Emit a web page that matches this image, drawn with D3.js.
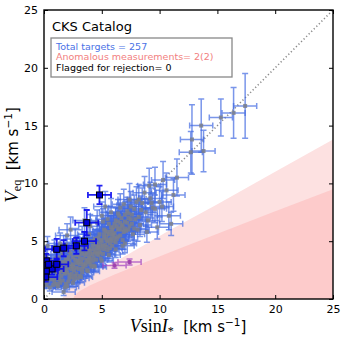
<!DOCTYPE html>
<html><head><meta charset="utf-8">
<script src="https://cdn.jsdelivr.net/npm/d3@7"></script>
<style>body{margin:0;background:#fff}svg{display:block}</style>
</head><body><div id="chart"></div>
<script>
// ---- data ----
const xTicks = [0, 5, 10, 15, 20, 25];
const yTicks = [0, 5, 10, 15, 20, 25];
// [vsini, veq, vsini_err, veq_err]
const samplePoints = [
 [0.3,1.5,1,0.4],[0.5,2.1,1,0.5],[0.8,1.2,1,0.3],[0.2,3.8,1,0.6],[0.6,3.3,1,0.5],[1.0,1.8,1,0.4],[1.2,2.6,1,0.5],[0.4,2.7,1,0.4],[1.4,1.4,1,0.3],[0.9,4.4,1,0.7],
 [1.3,3.6,1,0.6],[0.7,1.7,1,0.4],[1.1,2.2,1,0.4],[0.1,2.4,1,0.5],[1.5,2.0,1,0.4],[0.5,1.0,1,0.3],[1.2,1.1,1,0.3],[0.3,4.6,1,0.8],[1.4,4.8,1,0.9],[0.8,3.0,1,0.5],
 [1.6,1.6,1,0.4],[1.7,2.8,1,0.5],[1.8,1.0,1,0.3],[1.9,3.4,1,0.6],[2.0,2.3,1,0.4],[2.1,1.5,1,0.4],[2.2,4.1,1,0.7],[2.3,2.9,1,0.5],[2.4,1.9,1,0.4],[2.5,3.6,1,0.6],
 [2.6,2.5,1,0.5],[2.7,5.2,1,0.9],[2.8,3.1,1,0.5],[2.9,1.8,1,0.4],[1.6,3.9,1,0.7],[1.8,2.2,1,0.4],[2.0,5.5,1,1.0],[2.2,3.3,1,0.6],[2.4,2.6,1,0.5],[2.6,4.3,1,0.7],
 [2.8,2.2,1,0.4],[3.0,3.8,1,0.6],[1.7,0.6,1,0.3],[2.5,1.4,1,0.3],[1.9,4.7,1,0.8],[2.3,6.0,1,1.1],[2.7,2.0,1,0.4],[2.9,4.6,1,0.8],[2.1,2.7,1,0.5],[3.0,2.6,1,0.5],
 [3.1,3.0,1,0.5],[3.2,4.2,1,0.7],[3.3,2.3,1,0.4],[3.4,3.5,1,0.6],[3.5,5.0,1,0.8],[3.6,2.9,1,0.5],[3.7,4.0,1,0.6],[3.8,3.3,1,0.5],[3.9,5.6,1,0.9],[4.0,3.9,1,0.6],
 [4.1,2.8,1,0.5],[4.2,4.6,1,0.7],[4.3,3.6,1,0.6],[4.4,5.2,1,0.8],[4.5,4.1,1,0.7],[3.2,3.2,1,0.5],[3.4,4.8,1,0.8],[3.6,3.8,1,0.6],[3.8,4.5,1,0.7],[4.0,6.3,1,1.0],
 [4.2,3.3,1,0.5],[4.4,4.0,1,0.6],[3.3,2.6,1,0.5],[3.5,6.8,1,1.1],[3.7,3.4,1,0.5],[3.9,4.3,1,0.7],[4.1,5.0,1,0.8],[4.3,2.9,1,0.5],[3.1,4.5,1,0.8],[4.5,3.4,1,0.6],
 [3.6,4.6,1,0.7],[4.0,3.0,1,0.5],
 [4.6,4.8,1,0.8],[4.7,3.8,1,0.6],[4.8,5.6,1,0.9],[4.9,4.4,1,0.7],[5.0,5.0,1,0.8],[5.1,3.9,1,0.6],[5.2,6.0,1,1.0],[5.3,4.7,1,0.7],[5.4,5.4,1,0.8],[5.5,4.2,1,0.7],
 [5.6,6.5,1,1.0],[5.7,5.1,1,0.8],[5.8,5.8,1,0.9],[5.9,4.6,1,0.7],[6.0,6.2,1,1.0],[4.6,6.6,1,1.1],[4.8,4.1,1,0.6],[5.0,7.2,1,1.2],[5.2,5.3,1,0.8],[5.4,4.5,1,0.7],
 [5.6,5.6,1,0.9],[5.8,7.5,1,1.2],[6.0,5.0,1,0.8],[4.7,5.3,1,0.8],[5.1,6.7,1,1.1],[5.5,6.9,1,1.1],[5.9,5.5,1,0.9],[4.9,3.5,1,0.6],[5.3,8.0,1,1.3],[5.7,4.4,1,0.7],
 [6.1,5.7,1,0.9],[6.2,6.8,1,1.1],[6.3,5.2,1,0.8],[6.4,7.4,1,1.2],[6.5,6.1,1,1.0],[6.6,5.5,1,0.9],[6.7,7.0,1,1.1],[6.8,6.4,1,1.0],[6.9,8.2,1,1.3],[7.0,6.7,1,1.1],
 [7.1,5.9,1,0.9],[7.2,7.6,1,1.2],[7.3,7.0,1,1.1],[7.4,6.3,1,1.0],[7.5,8.0,1,1.3],[7.6,7.3,1,1.2],[7.7,5.6,1,0.9],[7.8,7.8,1,1.2],[7.9,6.9,1,1.1],[8.0,8.4,1,1.3],
 [6.2,4.9,1,0.8],[6.6,7.9,1,1.2],[7.0,4.8,1,0.8],[7.4,8.6,1,1.4],[7.8,6.1,1,1.0],[6.4,6.0,1,1.0],[6.8,5.1,1,0.8],[7.2,6.6,1,1.0],
 [8.2,7.1,1,1.1],[8.3,6.4,1,1.0],[8.5,8.3,1,1.3],[8.7,9.2,1,1.4],[8.8,7.5,1,1.2],[9.0,6.8,1,1.1],[9.2,8.7,1,1.4],[9.4,7.9,1,1.2],[9.6,9.9,1,1.5],[9.6,7.8,1,1.2],
 [9.8,6.2,1,1.0],[10.0,8.4,1,1.3],[10.2,8.0,1,1.3],[10.3,10.3,1,1.6],[10.6,9.4,1,1.5],[8.2,8.6,1,1.3],[9.1,9.8,1,1.5],[10.8,7.2,1,1.2],[11.2,9.0,1,1.4],[11.5,10.5,1,1.6],
 [8.9,5.8,1,0.9],[11.0,6.5,1,1.0],
 [12.7,12.7,1,1.8],[12.8,13.8,1,3.0],[13.8,12.8,1,1.8],[13.6,15.0,1,2.3],[15.3,15.7,1,1.6],[16.4,16.1,1,2.2],[17.4,16.7,1,2.8],
 [1.0,2.9,1,0.5],[1.3,1.7,1,0.4],[1.6,2.4,1,0.4],[1.9,1.3,1,0.3],[2.2,1.8,1,0.4],[2.5,3.0,1,0.5],[2.8,2.7,1,0.5],[3.1,2.0,1,0.4],[3.4,2.8,1,0.5],[3.7,2.5,1,0.4],
 [4.0,3.5,1,0.6],[4.3,4.3,1,0.7],[4.6,4.4,1,0.7],[4.9,5.1,1,0.8],[5.2,4.3,1,0.7],[5.5,5.8,1,0.9],[5.8,5.2,1,0.8],[6.1,6.5,1,1.0],[6.4,5.4,1,0.9],[6.7,6.0,1,1.0],
 [7.0,7.3,1,1.1],[7.3,6.0,1,1.0],[0.6,2.3,1,0.4],[0.9,1.5,1,0.4],[1.2,3.2,1,0.5],[1.5,2.7,1,0.5],[1.8,3.1,1,0.5],[2.1,3.6,1,0.6],[2.4,2.2,1,0.4],[2.7,3.4,1,0.6],
 [3.0,3.2,1,0.5],[3.3,3.9,1,0.6],[3.6,3.1,1,0.5],[3.9,3.6,1,0.6],[4.2,3.9,1,0.6],[4.5,4.7,1,0.8],[4.8,4.0,1,0.7],[5.1,4.6,1,0.7],[5.4,5.1,1,0.8],[5.7,4.8,1,0.8],
 [6.0,5.6,1,0.9],[6.3,6.3,1,1.0],[6.6,6.6,1,1.0],[6.9,5.8,1,0.9],[7.5,6.9,1,1.1],[2.0,1.1,1,0.3],[2.6,1.7,1,0.4],[3.2,1.9,1,0.4],[3.8,2.4,1,0.4],[4.4,2.8,1,0.5],
 [5.0,3.3,1,0.6],[5.6,3.8,1,0.6],[6.2,4.3,1,0.7],[6.8,4.6,1,0.7],
 [0.4,1.8,1,0.4],[0.7,2.8,1,0.5],[1.0,3.5,1,0.6],[1.3,2.3,1,0.4],[1.6,3.2,1,0.5],[1.9,2.5,1,0.4],[2.2,2.1,1,0.4],[2.5,2.8,1,0.5],[2.8,3.8,1,0.6],[3.1,3.5,1,0.6],
 [3.4,3.0,1,0.5],[3.7,4.4,1,0.7],[4.0,4.2,1,0.7],[4.3,5.0,1,0.8],[4.6,3.9,1,0.6],[4.9,4.7,1,0.8],[5.2,5.6,1,0.9],[5.5,5.0,1,0.8],[5.8,6.2,1,1.0],[6.1,5.3,1,0.9],
 [6.4,6.7,1,1.1],[6.7,6.3,1,1.0],[7.0,6.1,1,1.0],[7.3,7.4,1,1.2],[7.6,6.5,1,1.1],[1.1,1.3,1,0.3],[1.4,3.0,1,0.5],[2.3,3.9,1,0.6],[3.5,4.2,1,0.7],[4.7,4.5,1,0.7],
 [5.3,5.9,1,0.9],[6.5,7.2,1,1.1],[2.9,3.3,1,0.5],[3.9,3.2,1,0.5],[5.9,6.0,1,1.0],[0.2,1.2,1,0.3],[8.4,7.7,1,1.2],[8.1,6.0,1,1.0],[9.3,8.3,1,1.3],[2.0,3.0,1,0.5]
];
// highlighted (dark blue) points
const highlightPoints = [
 [4.8,9.0,1,0.8],[3.7,6.6,1,1.1],[3.5,5.0,1,0.8],[2.8,4.6,1,0.7],[1.7,4.4,1,0.7],[1.1,4.3,1,0.9],
 [0.2,3.3,1,0.6],[0.2,2.9,1,0.5],[0.7,2.6,1,0.5],[1.1,3.0,1,0.5],[0.2,2.4,1,0.5],[0.15,1.9,1,0.4],[0.4,3.0,1,0.5]
];
// anomalous (purple) points
const anomalousPoints = [[6.1,2.9,1,0.25],[7.4,3.2,1,0.25]];
// rejection zone boundaries
const zoneLightX = [1.55, 2, 3, 4.6, 7, 10.9, 15, 20, 25];
const zoneLightY = [0, 0.7, 1.42, 2.4, 3.7, 5.97, 8.2, 11.0, 13.8];
const zoneDarkX = [2.5, 2.7, 3.1, 4, 6, 10.9, 15, 20, 25];
const zoneDarkY = [0, 0.39, 0.70, 1.19, 2.08, 4.05, 5.65, 7.6, 9.5];
const title = "CKS Catalog";
const legendLines = ["Total targets = 257", "Anomalous measurements= 2(2)", "Flagged for rejection= 0"];

// ---- drawing ----
const W = 341, H = 341;
const L = 44, R = 333, T = 10, B = 299;
const x = d3.scaleLinear().domain([0, 25]).range([L, R]);
const y = d3.scaleLinear().domain([0, 25]).range([B, T]);

const svg = d3.select("#chart").append("svg").attr("width", W).attr("height", H);
svg.append("defs").append("clipPath").attr("id", "clip")
  .append("rect").attr("x", L).attr("y", T).attr("width", R - L).attr("height", B - T);
const plot = svg.append("g").attr("clip-path", "url(#clip)");

function zone(xs, ys) {
  const pts = xs.map((v, i) => [v, ys[i]]);
  pts.push([25, 0]);
  return d3.line().x(d => x(d[0])).y(d => y(d[1])).curve(d3.curveLinear)(pts) + "Z";
}
plot.append("path").attr("d", zone(zoneLightX, zoneLightY)).attr("fill", "#fde1e1");
plot.append("path").attr("d", zone(zoneDarkX, zoneDarkY)).attr("fill", "#fdcbcb");

plot.append("line").attr("x1", x(0)).attr("y1", y(0)).attr("x2", x(25)).attr("y2", y(25))
  .attr("stroke", "#8a8a8a").attr("stroke-width", 1.6).attr("stroke-dasharray", "1.2,2.4");

function errorbars(g, data, color, width, opacity, cap) {
  const gg = g.append("g").attr("stroke", color).attr("stroke-width", width).attr("stroke-opacity", opacity).attr("fill", "none");
  data.forEach(d => {
    const cx = x(d[0]), cy = y(d[1]);
    const x0 = x(d[0] - d[2]), x1 = x(d[0] + d[2]);
    const y0 = y(d[1] - d[3]), y1 = y(d[1] + d[3]);
    gg.append("path").attr("d",
      `M${x0},${cy}H${x1}M${cx},${y0}V${y1}` +
      `M${x0},${cy - cap}V${cy + cap}M${x1},${cy - cap}V${cy + cap}` +
      `M${cx - cap},${y0}H${cx + cap}M${cx - cap},${y1}H${cx + cap}`);
  });
}
function markers(g, data, size, fill, stroke, sw, opacity) {
  g.append("g").selectAll("rect").data(data).join("rect")
    .attr("x", d => x(d[0]) - size / 2).attr("y", d => y(d[1]) - size / 2)
    .attr("width", size).attr("height", size)
    .attr("fill", fill).attr("stroke", stroke).attr("stroke-width", sw).attr("opacity", opacity);
}

errorbars(plot, samplePoints, "#4169e1", 1.5, 0.7, 3);
markers(plot, samplePoints, 4, "#7a7f8c", "none", 0, 0.85);
errorbars(plot, anomalousPoints, "#a040c0", 1.5, 0.7, 3);
markers(plot, anomalousPoints, 4, "#9a3aa8", "none", 0, 0.85);
errorbars(plot, highlightPoints, "#0a0af0", 1.8, 0.9, 3);
markers(plot, highlightPoints, 6, "#0000d8", "#000", 1, 1);

// frame and ticks
const frame = svg.append("g");
frame.append("rect").attr("x", L).attr("y", T).attr("width", R - L).attr("height", B - T)
  .attr("fill", "none").attr("stroke", "#000").attr("stroke-width", 1.4);

const axB = d3.axisBottom(x).tickValues(xTicks).tickSizeInner(-4).tickSizeOuter(0).tickPadding(6);
const axL = d3.axisLeft(y).tickValues(yTicks).tickSizeInner(-4).tickSizeOuter(0).tickPadding(6);
const axT = d3.axisTop(x).tickValues(xTicks).tickSizeInner(-4).tickSizeOuter(0).tickFormat("");
const axR = d3.axisRight(y).tickValues(yTicks).tickSizeInner(-4).tickSizeOuter(0).tickFormat("");
function styleAxis(g) {
  g.select(".domain").remove();
  g.selectAll("line").attr("stroke", "#000").attr("stroke-width", 1);
  g.selectAll("text").attr("fill", "#000").style("font-family", "DejaVu Sans").style("font-size", "11px");
}
svg.append("g").attr("transform", `translate(0,${B})`).call(axB).call(styleAxis);
svg.append("g").attr("transform", `translate(${L},0)`).call(axL).call(styleAxis);
svg.append("g").attr("transform", `translate(0,${T})`).call(axT).call(styleAxis);
svg.append("g").attr("transform", `translate(${R},0)`).call(axR).call(styleAxis);

// title and legend box
svg.append("text").attr("x", 52).attr("y", 31).text(title)
  .style("font-family", "DejaVu Sans").style("font-size", "13px").attr("fill", "#000");
svg.append("rect").attr("x", 51).attr("y", 38).attr("width", 181).attr("height", 39)
  .attr("fill", "#fff").attr("stroke", "#888").attr("stroke-width", 1.3);
const legendColors = ["#4a72e6", "#f28080", "#000"];
const legendY = [50, 60, 70.5];
legendLines.forEach((t, i) => {
  svg.append("text").attr("x", 56).attr("y", legendY[i]).text(t)
    .attr("fill", legendColors[i]).style("font-family", "DejaVu Sans").style("font-size", "9.5px");
});

// axis labels
const xl = svg.append("text").attr("x", 188).attr("y", 332).attr("text-anchor", "middle").attr("fill", "#000");
xl.append("tspan").text("V").style("font-family", "Liberation Serif").style("font-style", "italic").style("font-size", "18px");
xl.append("tspan").text("sin").style("font-family", "Liberation Serif").style("font-size", "18px");
xl.append("tspan").text("I").style("font-family", "Liberation Serif").style("font-style", "italic").style("font-size", "18px");
xl.append("tspan").text("*").attr("dy", 3).style("font-family", "Liberation Serif").style("font-size", "12px");
xl.append("tspan").text("  [km s").attr("dy", -3).style("font-family", "DejaVu Sans").style("font-size", "15px").style("white-space", "pre");
xl.append("tspan").text("\u22121").attr("dy", -6).style("font-family", "DejaVu Sans").style("font-size", "10.5px");
xl.append("tspan").text("]").attr("dy", 6).style("font-family", "DejaVu Sans").style("font-size", "15px");

const yl = svg.append("text").attr("transform", "translate(18,155) rotate(-90)").attr("text-anchor", "middle").attr("fill", "#000");
yl.append("tspan").text("V").style("font-family", "Liberation Serif").style("font-style", "italic").style("font-size", "19px");
yl.append("tspan").text("eq").attr("dy", 3).style("font-family", "Liberation Serif").style("font-size", "12px");
yl.append("tspan").text("  [km s").attr("dy", -3).style("font-family", "DejaVu Sans").style("font-size", "15px").style("white-space", "pre");
yl.append("tspan").text("\u22121").attr("dy", -6).style("font-family", "DejaVu Sans").style("font-size", "10.5px");
yl.append("tspan").text("]").attr("dy", 6).style("font-family", "DejaVu Sans").style("font-size", "15px");
</script></body></html>
